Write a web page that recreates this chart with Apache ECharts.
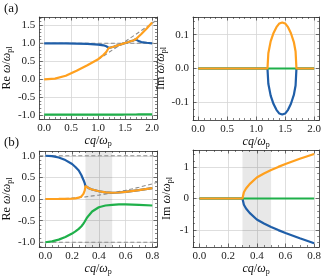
<!DOCTYPE html>
<html><head><meta charset="utf-8">
<script src="https://cdn.jsdelivr.net/npm/echarts@6/dist/echarts.min.js"></script>
<style>html,body{margin:0;padding:0;background:#fff}#c{width:324px;height:277px}</style>
</head><body><div id="c"></div>
<script>
// ---------- Panel (a) data ----------
const qA = [0,0.2,0.4,0.6,0.8,1.0,1.1,1.15,1.195,1.21,1.25,1.3,1.35,1.4,1.45,1.5,1.55,1.6,1.65,1.68,1.695,1.75,1.8,1.9,2.0];
const reBlueA   = [1.0,1.0,0.998,0.993,0.983,0.965,0.945,0.92,0.87,0.875,0.89,0.91,0.935,0.96,0.985,1.01,1.03,1.055,1.08,1.1,1.11,1.06,1.035,1.015,1.0];
const reOrangeA = [0,0.02,0.1,0.24,0.39,0.56,0.68,0.76,0.87,0.875,0.89,0.91,0.935,0.96,0.985,1.01,1.03,1.055,1.08,1.1,1.11,1.19,1.26,1.41,1.58];
const reGreenA  = [-0.98,-0.98,-0.98,-0.98,-0.979,-0.978,-0.978,-0.977,-0.977,-0.977,-0.977,-0.976,-0.976,-0.976,-0.976,-0.975,-0.975,-0.975,-0.975,-0.975,-0.975,-0.974,-0.974,-0.974,-0.973];
const imBlueA   = [0,0,0,0,0,0,0,0,0,-0.045,-0.08,-0.105,-0.122,-0.133,-0.136,-0.133,-0.122,-0.104,-0.078,-0.05,0,0,0,0,0];
const imOrangeA = [0,0,0,0,0,0,0,0,0,0.045,0.08,0.105,0.122,0.133,0.136,0.133,0.122,0.104,0.078,0.05,0,0,0,0,0];
const imGreenA  = [0,0,0,0,0,0,0,0,0,0,0,0,0,0,0,0,0,0,0,0,0,0,0,0,0];
const dashFlatX_A = [-0.09, 2.09];
const dashFlatY_A = [1.0, 1.0];
const dashDiagX_A = [1.0, 1.5, 2.09];
const dashDiagY_A = [0.55, 1.05, 1.65];

// ---------- Panel (b) data ----------
const qB = [0,0.05,0.1,0.15,0.2,0.225,0.25,0.27,0.285,0.295,0.3,0.31,0.325,0.35,0.4,0.45,0.5,0.55,0.6,0.7,0.8];
const reBlueB   = [1.0,0.99,0.96,0.9,0.81,0.74,0.66,0.55,0.44,0.36,0.3,0.28,0.25,0.22,0.18,0.155,0.145,0.15,0.165,0.205,0.25];
const reOrangeB = [0,0,0.002,0.005,0.01,0.015,0.03,0.06,0.12,0.2,0.3,0.28,0.25,0.22,0.18,0.155,0.145,0.15,0.165,0.205,0.25];
const reGreenB  = [-1.0,-0.98,-0.94,-0.88,-0.8,-0.75,-0.69,-0.63,-0.57,-0.52,-0.49,-0.44,-0.38,-0.29,-0.19,-0.15,-0.135,-0.125,-0.125,-0.135,-0.15];
const imBlueB   = [0,0,0,0,0,0,0,0,0,0,0,-0.2,-0.32,-0.46,-0.67,-0.8,-0.91,-1.01,-1.1,-1.27,-1.43];
const imOrangeB = [0,0,0,0,0,0,0,0,0,0,0,0.2,0.32,0.46,0.67,0.8,0.91,1.01,1.1,1.27,1.42];
const imGreenB  = [0,0,0,0,0,0,0,0,0,0,0,0,0,0,0,0,0,0,0,0,0];
const dashFlatX_B = [-0.045, 0.835];
const dashTopY_B = [1.0, 1.0];
const dashBotY_B = [-1.0, -1.0];
const dashCurveX_B = [0,0.1,0.2,0.3,0.4,0.5,0.6,0.7,0.8,0.835];
const dashCurveY_B = [0,0.005,0.02,0.05,0.09,0.14,0.2,0.27,0.35,0.385];
const shadeB = [0.3, 0.5];

const BLUE = '#1f5ea8', ORANGE = '#ffa01e', GREEN = '#1fb04a', GRAY = '#8c8c8c';
const FONT = 'Liberation Serif';

function zip(xs, ys){ return xs.map((x,i)=>[x, ys[i]]); }

const gridDefs = [
  {left:33, top:17, width:124, height:102, x:[-0.09,2.09,0.5,5], y:[-1.1,1.73,0.5,5], yname:'Re {i|ω}/{i|ω}{s|pl}', xf:1, yf:1},
  {left:193, top:17, width:127, height:103, x:[-0.09,2.09,0.5,5], y:[-0.152,0.152,0.1,5], yname:'Im {i|ω}/{i|ω}{s|pl}', xf:1, yf:1},
  {left:32, top:151, width:125, height:103, x:[-0.045,0.835,0.2,4], y:[-1.11,1.11,0.5,5], yname:'Re {i|ω}/{i|ω}{s|pl}', xf:1, yf:1},
  {left:193, top:150, width:127, height:102, x:[-0.045,0.835,0.2,4], y:[-1.55,1.55,1,5], yname:'Im {i|ω}/{i|ω}{s|pl}', xf:1, yf:0}
];

const rich = {
  i:{fontStyle:'italic', fontFamily:FONT, fontSize:12, color:'#111'},
  s:{fontFamily:FONT, fontSize:8, color:'#111', verticalAlign:'bottom', padding:[6,0,0,0]}
};

const grids=[], xAxes=[], yAxes=[];
gridDefs.forEach((g,gi)=>{
  grids.push({left:g.left, top:g.top, width:g.width, height:g.height, containLabel:false});
  const common = (mn,mx,iv,minor,show,pos,fmt)=>({
    gridIndex:gi, type:'value', min:mn, max:mx, minInterval:iv, maxInterval:iv, position:pos,
    axisLine:{show:true, onZero:false, lineStyle:{color:'#333', width:0.8}},
    axisTick:{show:true, inside:true, length:3.5, lineStyle:{color:'#333', width:0.7}},
    minorTick:{show:true, splitNumber:minor, length:2, lineStyle:{color:'#333', width:0.6}},
    splitLine:{show:show, lineStyle:{color:'#d6d6d6', width:0.8}},
    axisLabel:{show:show, showMinLabel:false, showMaxLabel:false, margin:4, fontFamily:FONT, fontSize:11, color:'#222',
      formatter:(v)=>v.toFixed(fmt)}
  });
  const xb = common(g.x[0],g.x[1],g.x[2],g.x[3],true,'bottom',g.xf);
  xb.name='{i|cq}/{i|ω}{s|p}'; xb.nameLocation='middle'; xb.nameGap=15;
  xb.nameTextStyle={fontFamily:FONT, fontSize:12, color:'#111', rich:rich};
  xAxes.push(xb);
  xAxes.push(common(g.x[0],g.x[1],g.x[2],g.x[3],false,'top',g.xf));
  const yl = common(g.y[0],g.y[1],g.y[2],g.y[3],true,'left',g.yf);
  yl.name=g.yname; yl.nameLocation='middle'; yl.nameGap = (gi===3)?19:24;
  yl.nameTextStyle={fontFamily:FONT, fontSize:12, color:'#111', rich:rich};
  yAxes.push(yl);
  yAxes.push(common(g.y[0],g.y[1],g.y[2],g.y[3],false,'right',g.yf));
});

function line(gi, xs, ys, color, z){
  return {type:'line', xAxisIndex:gi*2, yAxisIndex:gi*2, data:zip(xs,ys), showSymbol:false, symbol:'none',
    lineStyle:{color:color, width:2.2}, z:z, animation:false, clip:true};
}
function dash(gi, xs, ys){
  return {type:'line', xAxisIndex:gi*2, yAxisIndex:gi*2, data:zip(xs,ys), showSymbol:false, symbol:'none',
    lineStyle:{color:GRAY, width:1.1, type:[4,2.5]}, z:2, animation:false, clip:true};
}
function shade(gi){
  return {type:'line', xAxisIndex:gi*2, yAxisIndex:gi*2, data:[], z:1, animation:false,
    markArea:{silent:true, itemStyle:{color:'rgba(0,0,0,0.09)'}, data:[[{xAxis:shadeB[0]},{xAxis:shadeB[1]}]]}};
}

const series = [
  dash(0, dashFlatX_A, dashFlatY_A), dash(0, dashDiagX_A, dashDiagY_A),
  line(0, qA, reBlueA, BLUE, 3), line(0, qA, reGreenA, GREEN, 4), line(0, qA, reOrangeA, ORANGE, 5),
  line(1, qA, imBlueA, BLUE, 3), line(1, qA, imGreenA, GREEN, 4), line(1, qA, imOrangeA, ORANGE, 5),
  shade(2), dash(2, dashFlatX_B, dashTopY_B), dash(2, dashFlatX_B, dashBotY_B), dash(2, dashCurveX_B, dashCurveY_B),
  line(2, qB, reBlueB, BLUE, 3), line(2, qB, reGreenB, GREEN, 4), line(2, qB, reOrangeB, ORANGE, 5),
  shade(3),
  line(3, qB, imBlueB, BLUE, 3), line(3, qB, imGreenB, GREEN, 4), line(3, qB, imOrangeB, ORANGE, 5)
];

const chart = echarts.init(document.getElementById('c'), null, {renderer:'canvas'});
chart.setOption({
  animation:false,
  backgroundColor:'#fff',
  grid:grids, xAxis:xAxes, yAxis:yAxes, series:series,
  graphic:[
    {type:'text', left:4, top:2, style:{text:'(a)', fontFamily:FONT, fontSize:13, fill:'#111'}},
    {type:'text', left:4, top:136, style:{text:'(b)', fontFamily:FONT, fontSize:13, fill:'#111'}}
  ]
});
</script></body></html>
